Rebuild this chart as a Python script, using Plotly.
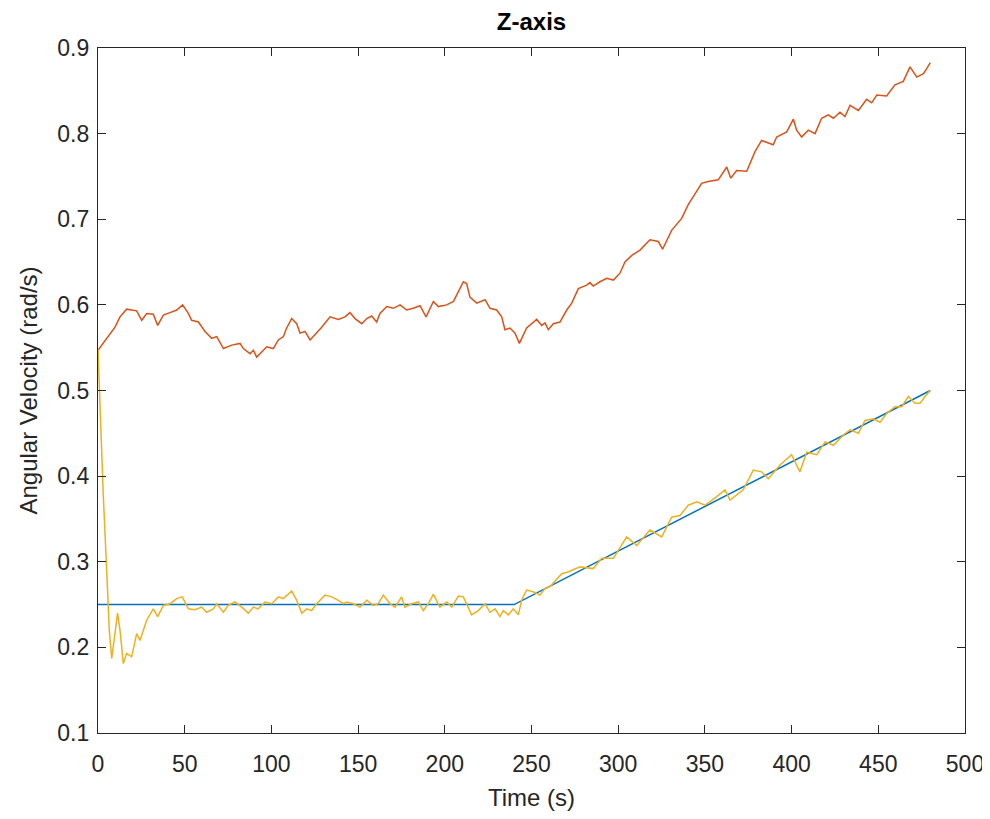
import plotly.graph_objects as go

# Reference (commanded) angular velocity
ref_t = [0, 240, 480]
ref_w = [0.25, 0.25, 0.50]

# Orange series
or_t = [0, 5.9, 9.8, 12.7, 16.5, 22.3, 25.2, 28.1, 31.9, 34.4, 37.7, 41.5, 45.4, 48.8, 52.1, 54.0,
        57.9, 61.7, 65.6, 68.5, 72.3, 77.1, 81.9, 83.8, 87.7, 89.6, 91.5, 94.4, 97.3, 101.1, 104.0,
        106.9, 108.8, 111.7, 114.6, 116.5, 119.4, 122.3, 125.1, 129.0, 133.8, 138.6, 142.4, 145.3,
        148.2, 152.1, 155.0, 157.8, 160.7, 162.6, 166.5, 170.3, 174.2, 178.0, 181.8, 185.7, 189.2,
        193.4, 196.3, 201.1, 205.0, 207.8, 210.7, 212.6, 214.5, 218.4, 223.2, 226.1, 229.9, 232.8,
        234.7, 237.6, 240.5, 243.0, 247.2, 253.0, 255.9, 257.8, 259.7, 262.6, 266.4, 270.3, 273.2,
        277.0, 281.8, 283.7, 285.6, 289.5, 293.4, 297.2, 301.0, 303.9, 308.0, 312.6, 318.3, 323.1,
        325.6, 330.8, 336.6, 340.4, 344.3, 348.1, 351.9, 357.7, 362.6, 364.9, 368.3, 374.1, 378.9,
        382.7, 389.4, 391.4, 397.2, 401.0, 402.9, 405.8, 409.6, 413.5, 417.3, 421.2, 424.1, 427.9,
        430.8, 433.7, 438.5, 443.3, 446.2, 449.1, 454.8, 459.6, 464.4, 468.3, 472.2, 476.0, 477.9,
        480.0]
or_w = [0.547, 0.563, 0.574, 0.586, 0.595, 0.593, 0.582, 0.590, 0.589, 0.576, 0.588, 0.591, 0.594,
        0.600, 0.590, 0.582, 0.580, 0.569, 0.561, 0.563, 0.549, 0.553, 0.555, 0.549, 0.543, 0.547,
        0.539, 0.545, 0.551, 0.549, 0.559, 0.563, 0.573, 0.584, 0.578, 0.567, 0.569, 0.559, 0.565,
        0.574, 0.586, 0.583, 0.586, 0.591, 0.584, 0.578, 0.584, 0.587, 0.580, 0.590, 0.598, 0.596,
        0.600, 0.594, 0.596, 0.599, 0.586, 0.604, 0.598, 0.600, 0.604, 0.615, 0.627, 0.625, 0.609,
        0.602, 0.606, 0.596, 0.594, 0.586, 0.571, 0.573, 0.567, 0.555, 0.573, 0.583, 0.576, 0.579,
        0.571, 0.578, 0.580, 0.594, 0.602, 0.619, 0.623, 0.626, 0.622, 0.627, 0.631, 0.629, 0.637,
        0.650, 0.658, 0.664, 0.676, 0.674, 0.665, 0.687, 0.701, 0.717, 0.730, 0.742, 0.744, 0.746,
        0.761, 0.748, 0.757, 0.756, 0.779, 0.792, 0.787, 0.796, 0.802, 0.817, 0.804, 0.796, 0.804,
        0.800, 0.818, 0.822, 0.818, 0.825, 0.820, 0.833, 0.827, 0.840, 0.836, 0.845, 0.844, 0.857,
        0.861, 0.878, 0.866, 0.870, 0.876, 0.883]

# Yellow series
ye_t = [0, 1.2, 3.0, 5.0, 6.5, 7.9, 9.8, 11.3, 12.7, 14.6, 16.5, 19.4, 22.3, 24.2, 28.1, 31.9, 34.4,
        37.7, 41.5, 45.4, 48.6, 52.1, 55.9, 59.8, 62.7, 66.5, 68.5, 72.3, 75.1, 79.0, 82.9, 86.7,
        89.6, 92.4, 96.3, 100.2, 104.0, 106.9, 111.7, 114.6, 117.5, 120.4, 123.2, 126.1, 130.9,
        134.8, 138.6, 141.5, 143.4, 147.2, 151.1, 155.0, 158.8, 161.7, 164.5, 168.4, 171.3, 175.1,
        177.0, 180.9, 184.7, 187.6, 190.5, 193.4, 197.2, 201.1, 204.0, 207.8, 210.7, 213.6, 215.5,
        219.3, 223.2, 226.1, 229.0, 231.8, 233.7, 236.6, 239.5, 242.4, 244.3, 247.2, 251.0, 254.9,
        257.8, 260.7, 263.6, 267.4, 271.0, 274.5, 278.0, 285.6, 290.5, 297.2, 304.9, 310.7, 318.3,
        325.1, 330.8, 335.6, 340.4, 345.3, 350.0, 356.8, 361.6, 364.5, 372.1, 377.9, 382.7, 386.6,
        393.3, 400.0, 404.8, 408.7, 414.5, 419.3, 424.1, 429.9, 433.7, 438.5, 442.3, 447.1, 451.0,
        454.8, 459.6, 463.5, 467.3, 471.2, 474.0, 476.9, 480.0]
ye_w = [0.548, 0.48, 0.38, 0.29, 0.22, 0.187, 0.220, 0.240, 0.220, 0.181, 0.193, 0.189, 0.216,
        0.208, 0.232, 0.245, 0.236, 0.249, 0.251, 0.257, 0.259, 0.245, 0.244, 0.247, 0.241, 0.245,
        0.251, 0.241, 0.249, 0.253, 0.247, 0.240, 0.247, 0.245, 0.253, 0.251, 0.259, 0.257, 0.266,
        0.255, 0.240, 0.245, 0.243, 0.251, 0.261, 0.259, 0.255, 0.251, 0.253, 0.251, 0.247, 0.255,
        0.249, 0.251, 0.261, 0.251, 0.247, 0.259, 0.247, 0.251, 0.253, 0.243, 0.251, 0.262, 0.247,
        0.253, 0.247, 0.260, 0.259, 0.247, 0.238, 0.243, 0.251, 0.241, 0.245, 0.236, 0.243, 0.238,
        0.245, 0.238, 0.255, 0.267, 0.265, 0.261, 0.269, 0.271, 0.277, 0.286, 0.288, 0.291, 0.294,
        0.292, 0.304, 0.304, 0.329, 0.319, 0.337, 0.329, 0.352, 0.354, 0.366, 0.370, 0.366, 0.376,
        0.384, 0.372, 0.384, 0.407, 0.405, 0.397, 0.413, 0.425, 0.405, 0.428, 0.425, 0.440, 0.436,
        0.448, 0.454, 0.450, 0.465, 0.467, 0.463, 0.473, 0.481, 0.481, 0.493, 0.485, 0.485, 0.493,
        0.500]

x_ticks = [0, 50, 100, 150, 200, 250, 300, 350, 400, 450, 500]
y_ticks = [0.1, 0.2, 0.3, 0.4, 0.5, 0.6, 0.7, 0.8, 0.9]
y_tick_text = ["0.1", "0.2", "0.3", "0.4", "0.5", "0.6", "0.7", "0.8", "0.9"]

AX = "#262626"
FONT = "Liberation Sans, Arial, Helvetica, sans-serif"
W, H = 982, 803  # page body has an 8px margin at the top/left

fig = go.Figure()
fig.add_trace(go.Scatter(x=ref_t, y=ref_w, mode="lines", line=dict(color="#0072BD", width=1.5)))
fig.add_trace(go.Scatter(x=or_t, y=or_w, mode="lines", line=dict(color="#D95319", width=1.5)))
fig.add_trace(go.Scatter(x=ye_t, y=ye_w, mode="lines", line=dict(color="#EDB120", width=1.5)))

axis_common = dict(
    showgrid=False, zeroline=False, showline=True, linecolor=AX, linewidth=1.3,
    mirror="ticks", ticks="inside", ticklen=8, tickwidth=1.3, tickcolor=AX,
    tickfont=dict(family=FONT, size=23, color=AX), automargin=False,
)
fig.update_xaxes(range=[0, 500], tickvals=x_ticks,
                 title=dict(text="Time (s)", font=dict(family=FONT, size=24, color=AX), standoff=16),
                 ticklabelstandoff=10, **axis_common)
fig.update_yaxes(range=[0.1, 0.9], tickvals=y_ticks, ticktext=y_tick_text,
                 title=dict(text="Angular Velocity (rad/s)", font=dict(family=FONT, size=24, color=AX), standoff=12),
                 ticklabelstandoff=3, **axis_common)

fig.update_layout(
    width=W, height=H,
    margin=dict(l=90, r=25, t=40, b=78),
    paper_bgcolor="white", plot_bgcolor="white",
    showlegend=False,
    title=dict(text="<b>Z-axis</b>", x=0.5, xanchor="center", xref="paper",
               y=1 - 14 / H, yanchor="middle",
               font=dict(family=FONT, size=24, color="#000000")),
)

fig.write_html("out.html")
